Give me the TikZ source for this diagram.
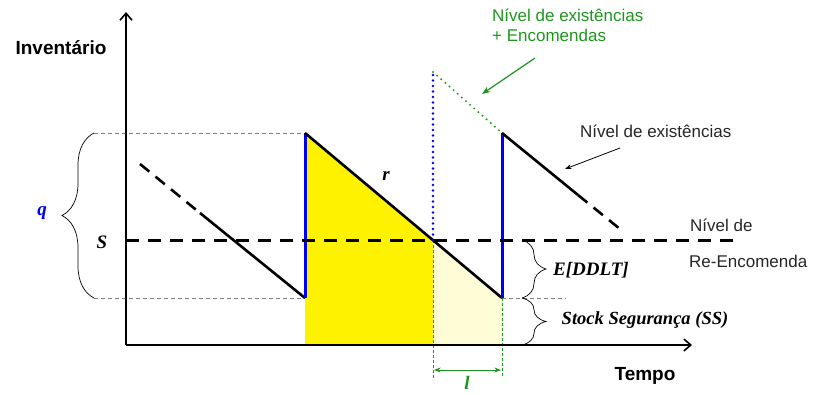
\documentclass[tikz,border=0pt]{standalone}
\usepackage{fontspec}
\setmainfont{Liberation Serif}
\setsansfont{Liberation Sans}
\usetikzlibrary{arrows.meta,decorations.pathreplacing}
\definecolor{grn}{RGB}{30,150,30}
\definecolor{blu}{RGB}{0,0,240}

\begin{document}
\begin{tikzpicture}[x=1pt, y=-1pt, font=\sffamily, >=Stealth,
      axis/.style={line width=1.6pt, -{Straight Barb[length=7pt,width=12pt,line width=1.6pt]}},
      saw/.style={line width=2.6pt},
      sawdash/.style={saw, dash pattern=on 12pt off 8pt},
      refill/.style={line width=3pt, blu},
      guide/.style={gray, line width=0.8pt, dash pattern=on 4pt off 3pt},
      lead/.style={grn, line width=0.6pt, dash pattern=on 3pt off 2pt},
      dots/.style={line width=2.8pt, line cap=round, dash pattern=on 0pt off 5.5pt},
      brc/.style={decorate, decoration={brace, amplitude=#1}, line width=0.7pt},
      lbl/.style={font=\fontsize{17}{20}\selectfont\sffamily, text=black!85},
      ttl/.style={font=\fontsize{19}{22}\selectfont\sffamily\bfseries},
      mth/.style={font=\fontsize{19}{22}\selectfont\rmfamily\bfseries\itshape}]
    \useasboundingbox (0,0) rectangle (817,394);
    % key points
    \coordinate (o) at (126,345);
    \coordinate (yend) at (126,12);
    \coordinate (xend) at (692,345);
    \coordinate (a0) at (140,164);
    \coordinate (a1) at (200,213);
    \coordinate (b1) at (305,298);
    \coordinate (t1) at (305,133);
    \coordinate (c1) at (433,240);
    \coordinate (b2) at (502,298);
    \coordinate (t2) at (502,133);
    \coordinate (d2) at (578,195);
    \coordinate (d3) at (620,229);
    \coordinate (p) at (433,72);
    \coordinate (s0) at (126,240);
    \coordinate (s1) at (738,240);
    % areas
    \fill[yellow] (t1) -- (c1) -- (433,345) -- (305,345) -- cycle;
    \fill[yellow!16] (c1) -- (b2) -- (502,345) -- (433,345) -- cycle;
    % guides and braces
    \draw[guide] (94,133) -- (t1);
    \draw[guide] (94,298) -- (b1);
    \draw[guide] (b2) -- (566,298);
    \draw[brc=32pt] (94,298) -- (94,133);
    \draw[brc=24pt] (522,240) -- (522,298);
    \draw[brc=24pt] (522,298) -- (522,345);
    \draw[lead] (c1) -- (433,378);
    \draw[lead] (b2) -- (502,378);
    \draw[grn, line width=0.8pt, <->] (434,370) -- (501,370);
    % axes
    \draw[axis] (o) -- (yend);
    \draw[axis] (o) -- (xend);
    % stock levels
    \draw[sawdash] (a0) -- (a1);
    \draw[saw] (a1) -- (b1);
    \draw[refill] (b1) -- (t1);
    \draw[saw] (t1) -- (b2);
    \draw[refill] (b2) -- (t2);
    \draw[saw] (t2) -- (d2);
    \draw[sawdash] (d2) -- (d3);
    \draw[dots, blu] (c1) -- (p);
    \draw[dots, grn, line width=2.2pt] (p) -- (t2);
    \draw[line width=3pt, dash pattern=on 13pt off 9pt] (s0) -- (s1);
    % labels
    \node[ttl] (inv) at (61,48) {Inventário};
    \node[ttl] (tmp) at (645,376) {Tempo};
    \node[mth, text=blu] (q) at (42,213) {q};
    \node[mth] (s) at (102,242) {S};
    \node[mth] (r) at (386,176) {r};
    \node[mth, text=grn, inner sep=0pt] (l) at (467,383) {l};
    \node[mth] (ddlt) at (591,270) {E[DDLT]};
    \node[mth, font=\fontsize{18.5}{21}\selectfont\rmfamily\bfseries\itshape] (ss) at (645,320) {Stock Segurança (SS)};
    \node[lbl, anchor=west, inner sep=0pt] (reo1) at (690,225) {Nível de};
    \node[lbl, anchor=west, inner sep=0pt] (reo2) at (689,261) {Re-Encomenda};
    \node[lbl, anchor=west, inner sep=0pt] (exi) at (580,131) {Nível de existências};
    \node[lbl, text=grn, anchor=north west, align=left, inner sep=0pt] (exo) at (492,9) {Nível de existências\\+ Encomendas};
    \coordinate (exa) at (620,148);
    \coordinate (exb) at (565,169);
    \coordinate (eoa) at (535,58);
    \coordinate (eob) at (482,94);
    \draw[->, line width=0.8pt] (exa) -- (exb);
    \draw[->, grn, line width=1.2pt] (eoa) -- (eob);
  \end{tikzpicture}
\end{document}
